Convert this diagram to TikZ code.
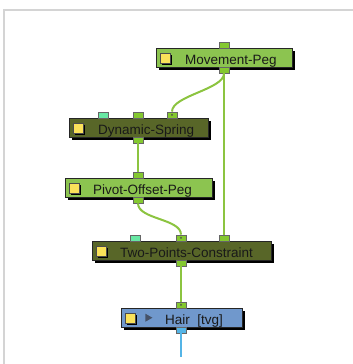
\documentclass[tikz,border=0pt]{standalone}
\usepackage{fontspec}
\setmainfont{Liberation Sans}
\usepackage{tikz}
\usetikzlibrary{arrows.meta, calc, positioning}
\definecolor{pegface}{RGB}{140,196,80}
\definecolor{olivefill}{RGB}{88,102,40}
\definecolor{portgreen}{RGB}{132,200,48}
\definecolor{portteal}{RGB}{104,232,164}
\definecolor{wiregreen}{RGB}{140,196,64}
\definecolor{hairblue}{RGB}{112,152,204}
\definecolor{portblue}{RGB}{84,180,230}
\definecolor{framegray}{RGB}{212,212,212}
\definecolor{swatchyellow}{RGB}{250,226,90}
\definecolor{arrowgray}{RGB}{70,82,104}

\tikzset{
  nodebox/.style={draw=black!85, inner sep=0pt, minimum height=19pt, anchor=north west,
    preaction={fill=black, transform canvas={shift={(3pt,-3pt)}}}},
  pegbox/.style={nodebox, fill=pegface},
  olivebox/.style={nodebox, fill=olivefill},
  hairbox/.style={nodebox, fill=hairblue},
  swatch/.style={draw=black!70, fill=swatchyellow, inner sep=0pt, minimum size=10pt, anchor=west,
    preaction={fill=black, transform canvas={shift={(2pt,-2pt)}}}},
  nodetext/.style={anchor=base west, inner sep=0pt, text=black!90,
    font=\fontsize{13.5}{16}\selectfont},
  port/.style={draw=black!60, fill=portgreen, inner sep=0pt, minimum width=10pt, minimum height=6pt},
  tealport/.style={port, fill=portteal},
  blueport/.style={port, fill=portblue},
  dotport/.style={port, path picture={\fill[black!70] (path picture bounding box.center) circle (1pt);}},
  wire/.style={wiregreen, line width=2pt},
}

\begin{document}
\begin{tikzpicture}[x=1pt, y=-1pt]
  \useasboundingbox[fill=white] (0,0) rectangle (353,364);

  % Frame
  \draw[framegray, line width=2pt] (4,364) -- (4,10) -- (353,10);

  % Movement-Peg
  \node[pegbox, minimum width=136pt] (mov) at (156,48) {};
  \node[swatch] (mov-s) at ([xshift=4pt]mov.west) {};
  \node[nodetext] (mov-t) at ([shift={(29pt,3pt)}]mov.south west) {Movement-Peg};
  \node[port, anchor=south] (mov-in) at (224,48) {};
  \node[port, anchor=north] (mov-out) at (224,67) {};

  % Dynamic-Spring
  \node[olivebox, minimum width=139pt] (dyn) at (69,118) {};
  \node[swatch] (dyn-s) at ([xshift=4pt]dyn.west) {};
  \node[nodetext] (dyn-t) at ([shift={(29pt,3pt)}]dyn.south west) {Dynamic-Spring};
  \node[tealport, anchor=south] (dyn-in1) at (103,118) {};
  \node[port, anchor=south] (dyn-in2) at (138,118) {};
  \node[dotport, anchor=south] (dyn-in3) at (172,118) {};
  \node[port, anchor=north] (dyn-out) at (138,137) {};

  % Pivot-Offset-Peg
  \node[pegbox, minimum width=147pt] (piv) at (65,178) {};
  \node[swatch] (piv-s) at ([xshift=4pt]piv.west) {};
  \node[nodetext] (piv-t) at ([shift={(28pt,3pt)}]piv.south west) {Pivot-Offset-Peg};
  \node[port, anchor=south] (piv-in) at (138,178) {};
  \node[port, anchor=north] (piv-out) at (138,197) {};

  % Two-Points-Constraint
  \node[olivebox, minimum width=179pt] (two) at (92,241) {};
  \node[swatch] (two-s) at ([xshift=4pt]two.west) {};
  \node[nodetext] (two-t) at ([shift={(28pt,3pt)}]two.south west) {Two-Points-Constraint};
  \node[tealport, anchor=south] (two-in1) at (135,241) {};
  \node[dotport, anchor=south] (two-in2) at (181,241) {};
  \node[port, anchor=south] (two-in3) at (224,241) {};
  \node[port, anchor=north] (two-out) at (181,260) {};

  % Hair [tvg]
  \node[hairbox, minimum width=121pt] (hair) at (121,308) {};
  \node[swatch] (hair-s) at ([xshift=4pt]hair.west) {};
  \fill[arrowgray] ([xshift=10pt]hair-s.east) ++(0,-4) -- ++(0,8) -- ++(7,-4) -- cycle;
  \node[nodetext] (hair-t) at ([shift={(44pt,3pt)}]hair.south west) {Hair\ \ [tvg]};
  \node[dotport, anchor=south] (hair-in) at (181,308) {};
  \node[blueport, anchor=north] (hair-out) at (181,327) {};
  \coordinate (tail) at (181,357);

  % Wires
  \draw[wire] (mov-out.south) -- (two-in3.north);
  \draw[wire] (mov-out.south) .. controls +(0,16) and +(0,-16) .. (dyn-in3.north);
  \draw[wire] (dyn-out.south) -- (piv-in.north);
  \draw[wire] (piv-out.south) .. controls +(0,16) and +(0,-16) .. (two-in2.north);
  \draw[wire] (two-out.south) -- (hair-in.north);
  \draw[portblue, line width=2pt] (hair-out.south) -- (tail);
\end{tikzpicture}
\end{document}
